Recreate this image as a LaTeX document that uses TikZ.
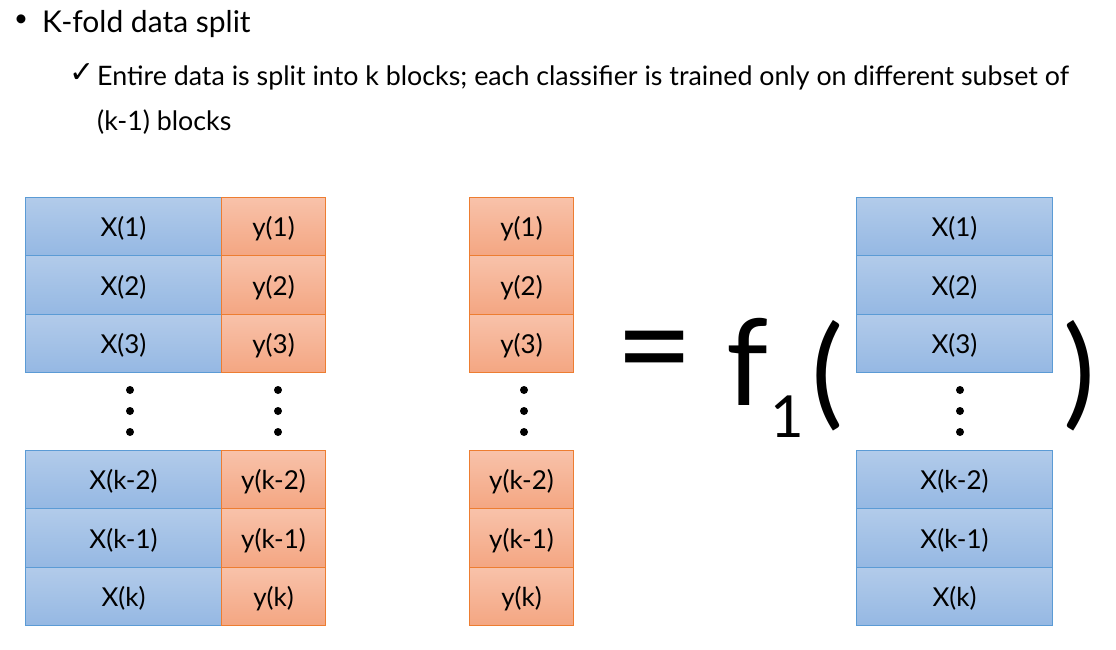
\documentclass[tikz,border=0pt]{standalone}
\usepackage{fontspec}
\setmainfont{Lato}
\newfontfamily\symfont{DejaVu Sans}
\usetikzlibrary{positioning}
\definecolor{xtop}{RGB}{178,203,234}
\definecolor{xbot}{RGB}{149,184,227}
\definecolor{xline}{RGB}{91,155,213}
\definecolor{ytop}{RGB}{248,194,170}
\definecolor{ybot}{RGB}{244,166,130}
\definecolor{yline}{RGB}{237,125,49}

\tikzset{
  cell/.style={minimum height=58.3pt, inner sep=0pt, anchor=north west, line width=1pt,
    text depth=0pt, font=\fontsize{26}{26}\selectfont},
  xcell/.style={cell, minimum width=196pt, draw=xline, top color=xtop, bottom color=xbot},
  ycell/.style={cell, minimum width=104pt, draw=yline, top color=ytop, bottom color=ybot},
  txt/.style={anchor=base west, inner sep=0pt}
}

\begin{document}
\begin{tikzpicture}[x=1pt,y=-1pt]
  \useasboundingbox (0,0) rectangle (1116,649);
  \def\h{58.3}

  %Heading and bullet points
  \node[inner sep=0pt, font=\fontsize{24}{24}\selectfont] (bul) at (21,21) {•};
  \node[txt, font=\fontsize{30}{30}\selectfont] (title) at (42,32) {K-fold data split};
  \node[inner sep=0pt, font=\symfont\fontsize{30}{30}\selectfont] (tick) at (82,73) {✓};
  \node[txt, font=\fontsize{26.8}{26.8}\selectfont] (line1) at (97,85)
    {Entire data is split into k blocks; each classifier is trained only on different subset of};
  \node[txt, font=\fontsize{26.8}{26.8}\selectfont] (line2) at (97,130) {(k-1) blocks};

  %Upper rows
  \foreach \lab [count=\i from 0] in {1,2,3}
  {
    \node[xcell] (x\lab) at (25,197+\i*\h) {X(\lab)};
    \node[ycell] (y\lab) at (221,197+\i*\h) {y(\lab)};
    \node[ycell] (t\lab) at (469,197+\i*\h) {y(\lab)};
    \node[xcell] (r\lab) at (856,197+\i*\h) {X(\lab)};
  }
  %Lower rows
  \foreach \lab/\nm [count=\i from 0] in {k-2/k2,k-1/k1,k/k}
  {
    \node[xcell] (x\nm) at (25,450+\i*\h) {X(\lab)};
    \node[ycell] (y\nm) at (221,450+\i*\h) {y(\lab)};
    \node[ycell] (t\nm) at (469,450+\i*\h) {y(\lab)};
    \node[xcell] (r\nm) at (856,450+\i*\h) {X(\lab)};
  }

  %Dots
  \foreach \cx in {130,278,524,960}
    \foreach \cy in {390,411,432}
      \fill (\cx,\cy) circle (4);

  %Classifier
  \node[inner sep=0pt, font=\fontsize{135}{135}\selectfont] (eq) at (655,362) {=};
  \node[txt, font=\fontsize{120}{120}\selectfont] (fn) at (726,405) {f};
  \node[txt, font=\fontsize{58}{58}\selectfont] (sub) at (770,437) {1};
  \node[inner sep=0pt, font=\fontsize{120}{120}\selectfont] (lpar) at (828,376) {(};
  \node[inner sep=0pt, font=\fontsize{120}{120}\selectfont] (rpar) at (1080,376) {)};
\end{tikzpicture}
\end{document}
